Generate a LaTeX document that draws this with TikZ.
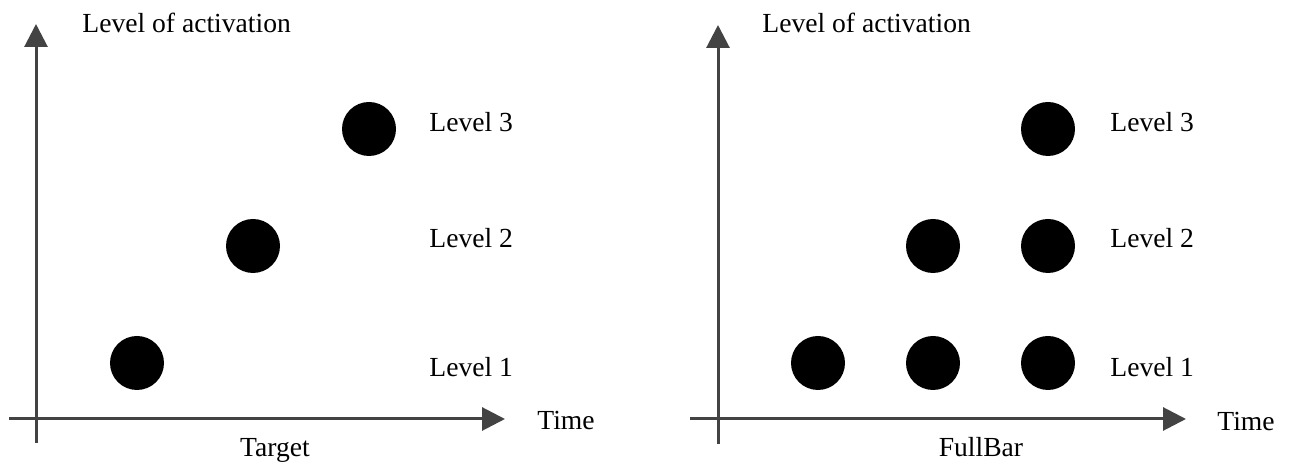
\documentclass[tikz,border=0pt]{standalone}
\usepackage{fontspec}
\setmainfont{Liberation Serif}
\usepackage{xcolor}
\usetikzlibrary{positioning,arrows.meta}
\definecolor{axisgray}{HTML}{434343}

\begin{document}
\begin{tikzpicture}[
    x=0.5pt, y=-0.5pt,
    dot/.style    ={circle, fill=black, draw=none, minimum size=27pt, inner sep=0pt},
    axis/.style   ={-{Triangle[length=11.5pt, width=11.5pt]}, line width=1.5pt, axisgray},
    txt/.style    ={font=\fontsize{13.8}{16}\selectfont, inner sep=0pt},
    lvl/.style    ={txt, anchor=base west},
    panellab/.style ={txt, anchor=base}
  ]
    \useasboundingbox (0,0) rectangle (1292,464);

    % --- Panel A: Target ---
    \coordinate (ya0) at (36,443);
    \coordinate (ya1) at (36,24);
    \coordinate (xa0) at (9,419);
    \coordinate (xa1) at (505,419);
    \draw[axis] (ya0) -- (ya1);
    \draw[axis] (xa0) -- (xa1);
    \node[lvl] (yla) at (82,33)   {Level of activation};
    \node[lvl] (xla) at (537,430) {Time};
    \node[panellab] (tla) at (275,457) {Target};
    \node[dot] (da1) at (137,363) {};
    \node[dot] (da2) at (253,246) {};
    \node[dot] (da3) at (369,129) {};
    \node[lvl] (la3) at (429,132) {Level 3};
    \node[lvl] (la2) at (429,248) {Level 2};
    \node[lvl] (la1) at (429,377) {Level 1};

    % --- Panel B: FullBar ---
    \coordinate (yb0) at (718,444);
    \coordinate (yb1) at (718,25);
    \coordinate (xb0) at (690,419);
    \coordinate (xb1) at (1186,419);
    \draw[axis] (yb0) -- (yb1);
    \draw[axis] (xb0) -- (xb1);
    \node[lvl] (ylb) at (762,33)   {Level of activation};
    \node[lvl] (xlb) at (1217,431) {Time};
    \node[panellab] (tlb) at (981,457)  {FullBar};
    \node[dot] (db11) at (818,363)  {};
    \node[dot] (db21) at (933,363)  {};
    \node[dot] (db31) at (1048,363) {};
    \node[dot] (db22) at (933,246)  {};
    \node[dot] (db32) at (1048,246) {};
    \node[dot] (db33) at (1048,129) {};
    \node[lvl] (lb3) at (1110,132) {Level 3};
    \node[lvl] (lb2) at (1110,248) {Level 2};
    \node[lvl] (lb1) at (1110,377) {Level 1};
\end{tikzpicture}
\end{document}
